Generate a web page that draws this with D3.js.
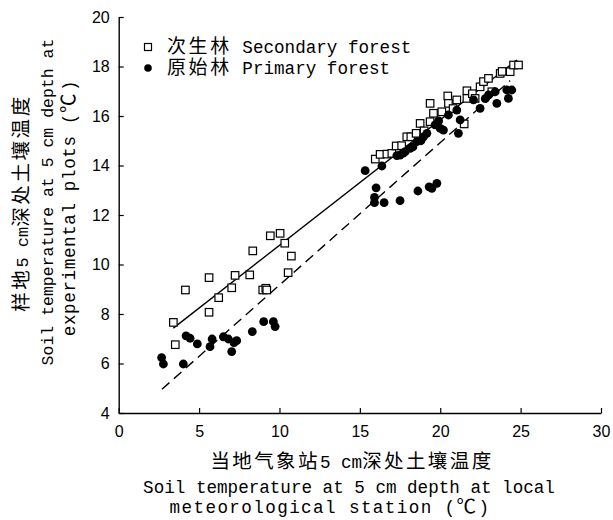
<!DOCTYPE html>
<html>
<head>
<meta charset="utf-8">
<script src="https://cdn.jsdelivr.net/npm/d3@7"></script>
<style>
  body { margin: 0; background: white; }
  svg { display: block; }
</style>
</head>
<body>
<svg></svg>
<script>
'use strict';

// secondary forest (squares): [station temp, plot temp]
const secondary = [
	[3.40, 7.66], [3.52, 6.76], [4.15, 8.97], [5.62, 9.47], [5.62, 8.07], [6.22, 8.66],
	[7.03, 9.06], [7.24, 9.56], [8.15, 9.58], [8.34, 10.55], [8.96, 8.97], [9.15, 9.04],
	[9.21, 8.97], [9.43, 11.16], [10.04, 11.26], [10.33, 10.86], [10.74, 10.34], [10.54, 9.67],
	[15.96, 14.26], [16.26, 14.45], [16.68, 14.46], [16.99, 14.49], [17.26, 14.79], [17.6, 14.8],
	[17.92, 15.16], [18.17, 15.16], [18.5, 15.3], [18.75, 15.70], [19.0, 15.4], [19.37, 15.77],
	[19.37, 16.51], [19.58, 16.11], [20.10, 16.17], [20.47, 16.81], [20.51, 16.51], [20.8, 16.3],
	[21.03, 16.65], [21.49, 15.68], [21.66, 17.02], [21.66, 16.71], [22.0, 16.9], [22.17, 16.71],
	[22.48, 17.18], [22.69, 17.39], [23.00, 17.52], [23.21, 16.98], [23.73, 17.72], [23.85, 17.80],
	[24.35, 17.79], [24.56, 18.06], [24.87, 18.06]
];

// primary forest (filled circles)
const primary = [
	[2.67, 6.24], [2.78, 5.98], [4.02, 5.98], [4.19, 7.12], [4.44, 7.02], [4.89, 6.79],
	[5.68, 6.68], [5.81, 6.99], [6.51, 7.08], [6.82, 6.99], [7.03, 6.48], [7.17, 6.84],
	[7.34, 6.92], [8.31, 7.29], [9.02, 7.69], [9.62, 7.69], [9.73, 7.49],
	[15.33, 13.79], [16.37, 13.98], [17.3, 14.4], [17.50, 14.42], [17.7, 14.5], [17.82, 14.56],
	[18.13, 14.69], [18.3, 14.75], [18.54, 14.96], [18.8, 15.0], [18.96, 15.16], [19.17, 15.30],
	[19.68, 15.64], [19.9, 15.8], [20.0, 15.50], [20.20, 15.43], [20.51, 16.04], [21.03, 16.24],
	[21.24, 15.84], [21.13, 15.30], [22.07, 16.65], [22.48, 16.31], [22.8, 16.7], [23.0, 16.85],
	[23.52, 16.51], [23.42, 16.98], [24.14, 17.05], [24.24, 16.71], [24.45, 17.05],
	[16.01, 13.10], [15.91, 12.71], [15.91, 12.50], [16.51, 12.50], [17.50, 12.58],
	[18.61, 12.97], [19.31, 13.14], [19.48, 13.08], [19.79, 13.28]
];

// fitted lines, as end points
const secondaryFit = [[3.40, 7.43], [24.77, 18.26]];
const primaryFit = [[2.69, 4.96], [24.35, 17.43]];

const xTicks = [0, 5, 10, 15, 20, 25, 30];
const yTicks = [4, 6, 8, 10, 12, 14, 16, 18, 20];

const legendLabels = ['次生林 Secondary forest', '原始林 Primary forest'];
const xTitle = ['当地气象站5 cm深处土壤温度', 'Soil temperature at 5 cm depth at local', 'meteorological station (℃)'];
const yTitle = ['样地5 cm深处土壤温度', 'Soil temperature at 5 cm depth at', 'experimental plots (℃)'];

const opts = {
	width: 613,
	height: 520,
	left: 118.7,
	right: 601,
	top: 17,
	bottom: 413,
	monoFont: '"Liberation Mono", "Noto Sans CJK SC", monospace',
	tickFont: '"Liberation Sans", Arial, sans-serif'
};

const svg = d3.select('svg')
	.attr('width', opts.width)
	.attr('height', opts.height);

const x = d3.scaleLinear().domain([0, 30]).range([opts.left, opts.right]);
const y = d3.scaleLinear().domain([4, 20]).range([opts.bottom, opts.top]);

// axes (ticks point inward)
const xAxis = svg.append('g')
	.attr('transform', `translate(0,${opts.bottom})`)
	.call(d3.axisBottom(x).tickValues(xTicks).tickSizeInner(-5).tickSizeOuter(0).tickPadding(13));

const yAxis = svg.append('g')
	.attr('transform', `translate(${opts.left},0)`)
	.call(d3.axisLeft(y).tickValues(yTicks).tickSizeInner(-5).tickSizeOuter(0).tickPadding(9));

[xAxis, yAxis].forEach(g => {
	g.select('.domain').attr('stroke', '#000').attr('stroke-width', 1.4);
	g.selectAll('.tick line').attr('stroke', '#000').attr('stroke-width', 1.2);
	g.selectAll('.tick text')
		.attr('fill', '#000')
		.style('font-family', opts.tickFont)
		.style('font-size', '16px');
});

// split text into CJK and latin runs so both get a sensible size
const mixedText = (sel, str, latinSize, cjkSize, cjkGap, latinGap) => {
	str.split(/([\u4e00-\u9fff\u2103]+)/).filter(s => s.length).forEach(part => {
		const isCjk = /[\u4e00-\u9fff\u2103]/.test(part);
		sel.append('tspan')
			.text(part)
			.style('font-size', (isCjk ? cjkSize : latinSize) + 'px')
			.style('letter-spacing', (isCjk ? cjkGap : (latinGap || 0)) + 'px');
	});
};

// regression lines
const line = d3.line().x(d => x(d[0])).y(d => y(d[1]));

svg.append('path')
	.datum(secondaryFit)
	.attr('d', line)
	.attr('fill', 'none')
	.attr('stroke', '#000')
	.attr('stroke-width', 1.4);

svg.append('path')
	.datum(primaryFit)
	.attr('d', line)
	.attr('fill', 'none')
	.attr('stroke', '#000')
	.attr('stroke-width', 1.4)
	.attr('stroke-dasharray', '10,6');

// points
const sq = 7.5;
svg.append('g').selectAll('rect')
	.data(secondary)
	.join('rect')
	.attr('x', d => x(d[0]) - sq / 2)
	.attr('y', d => y(d[1]) - sq / 2)
	.attr('width', sq)
	.attr('height', sq)
	.attr('fill', 'white')
	.attr('stroke', '#000')
	.attr('stroke-width', 1.2);

svg.append('g').selectAll('circle')
	.data(primary)
	.join('circle')
	.attr('cx', d => x(d[0]))
	.attr('cy', d => y(d[1]))
	.attr('r', 4.4)
	.attr('fill', '#000');

// legend
const legend = svg.append('g').attr('transform', 'translate(148,47)');

legend.append('rect')
	.attr('x', -3.5).attr('y', -3.5)
	.attr('width', 7).attr('height', 7)
	.attr('fill', 'white').attr('stroke', '#000').attr('stroke-width', 1.2);

legend.append('circle')
	.attr('cx', 0).attr('cy', 21).attr('r', 3.8)
	.attr('fill', '#000');

legendLabels.forEach((lbl, i) => {
	const t = legend.append('text')
		.attr('x', 19)
		.attr('y', i * 21)
		.attr('dy', '0.35em')
		.attr('fill', '#000')
		.style('font-family', opts.monoFont);
	mixedText(t, lbl, 17.6, 19, 2.6);
});

// x axis title
const xTitlePos = [[352, 462], [349, 487], [330, 507]];
const xTitleGap = [0, 0, 1.4];
xTitle.forEach((str, i) => {
	const t = svg.append('text')
		.attr('x', xTitlePos[i][0])
		.attr('y', xTitlePos[i][1])
		.attr('dy', '0.35em')
		.attr('text-anchor', 'middle')
		.attr('fill', '#000')
		.style('font-family', opts.monoFont);
	mixedText(t, str, 17.6, 19.5, 2.4, xTitleGap[i]);
});

// y axis title (rotated)
const yTitlePos = [[22, 203], [47, 202], [69, 208]];
const yTitleSize = [17, 16.5, 17.6];
const yTitleGap = [0, 0, 0.6];
yTitle.forEach((str, i) => {
	const t = svg.append('text')
		.attr('transform', `translate(${yTitlePos[i][0]},${yTitlePos[i][1]}) rotate(-90)`)
		.attr('dy', '0.35em')
		.attr('text-anchor', 'middle')
		.attr('fill', '#000')
		.style('font-family', opts.monoFont);
	mixedText(t, str, yTitleSize[i], 19.5, 2.6, yTitleGap[i]);
});
</script>
</body>
</html>
